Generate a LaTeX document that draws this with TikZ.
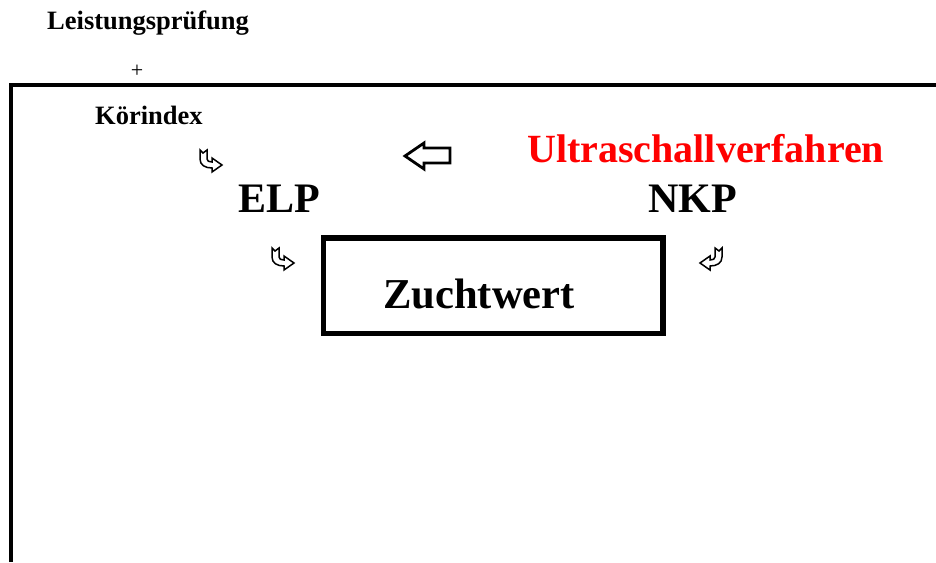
\documentclass[tikz,border=0pt]{standalone}
\usepackage{xcolor}
\usepackage{fontspec}
\setmainfont{Liberation Serif}
\usepackage{tikz}
\colorlet{strokeColor}{black}
\colorlet{textColor}{black}
\colorlet{accentColor}{red}

\tikzset{
  label text/.style={anchor=base west, inner sep=0pt, color=textColor, font=\bfseries},
  bentarrow/.pic={
    \draw[color=strokeColor, fill=white, line width=1.5pt, line join=miter]
      (0,0) -- (3,3) -- (7,0) -- (7,9)
      .. controls (7,11) and (9,12) .. (12,12) -- (12,8) -- (22,15) -- (12,22) -- (12,18)
      .. controls (5,18) and (0,15) .. (0,9) -- cycle;
  },
}

\begin{document}
\begin{tikzpicture}[x=1pt, y=-1pt]
    \useasboundingbox (0,0) rectangle (936,562);
    % frame, open to the right and bottom
    \draw[color=strokeColor, line width=4pt] (10.5,562) -- (10.5,84.5) -- (936,84.5);
    \node[label text] (leistung) at (47,29) {\fontsize{26.5}{30}\selectfont Leistungspr\"ufung};
    \node[inner sep=0pt, color=textColor] (plus) at (137,71) {\fontsize{22}{24}\selectfont +};
    \node[label text] (koerindex) at (95,124) {\fontsize{26.5}{30}\selectfont K\"orindex};
    \node[label text] (elp) at (238,212) {\fontsize{42}{48}\selectfont ELP};
    \node[label text] (nkp) at (648,212) {\fontsize{42}{48}\selectfont NKP};
    \node[label text, color=accentColor] (ultraschall) at (527,162) {\fontsize{40}{46}\selectfont Ultraschallverfahren};
    \node[draw=strokeColor, line width=5.5pt, minimum width=339.5pt, minimum height=95.5pt, inner sep=0pt]
      (zwbox) at (493.25,285.75) {};
    \node[label text] (zuchtwert) at (383,308) {\fontsize{42.6}{48}\selectfont Zuchtwert};
    % hollow arrows
    \draw[color=strokeColor, fill=white, line width=2.8pt, line join=miter]
      (405,156) -- (424,143) -- (424,148) -- (450,148) -- (450,163) -- (424,163) -- (424,169) -- cycle;
    \pic (arrowA) at (200,150) {bentarrow};
    \pic (arrowB) at (272,248) {bentarrow};
    \pic[xscale=-1] (arrowC) at (722,248) {bentarrow};
\end{tikzpicture}
\end{document}
